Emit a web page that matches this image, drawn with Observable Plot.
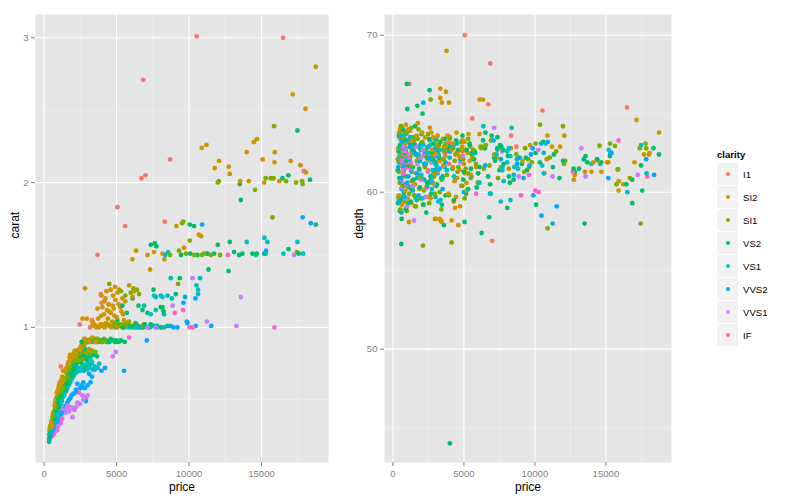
<!DOCTYPE html>
<html>
<head>
<meta charset="utf-8">
<script src="https://cdn.jsdelivr.net/npm/d3@7"></script>
<script src="https://cdn.jsdelivr.net/npm/@observablehq/plot@0.6"></script>
<style>
  body { margin: 0; background: white; font-family: "Liberation Sans", Arial, sans-serif; }
  #wrap { position: relative; width: 800px; height: 500px; overflow: hidden; }
  #p1 { position: absolute; left: 0; top: 0; }
  #p2 { position: absolute; left: 350px; top: 0; }
  #legend { position: absolute; left: 717px; top: 149px; font-size: 9.6px; color: #000; }
  #legend .title { font-weight: bold; height: 14px; line-height: 12px; }
  #legend .row { display: flex; align-items: center; height: 23px; }
  #legend .key { width: 21px; height: 22px; background: #F2F2F2; border-bottom: 1px solid #fff; border-right: 1px solid #fff; position: relative; }
  #legend .key span { position: absolute; left: 8.5px; top: 9px; width: 4.4px; height: 4.4px; border-radius: 50%; }
  #legend .lab { margin-left: 4px; }
</style>
</head>
<body>
<div id="wrap"><div id="p1"></div><div id="p2"></div><div id="legend"></div></div>
<script>
const clarityLevels = ["I1","SI2","SI1","VS2","VS1","VVS2","VVS1","IF"];
const palette = ["#F8766D","#CD9600","#7CAE00","#00BE67","#00BFC4","#00A9FF","#C77CFF","#FF61CC"];
const priceTicks = [0, 5000, 10000, 15000];
const priceMinor = [2500, 7500, 12500, 17500];
const caratTicks = [1, 2, 3];
const caratMinor = [0.5, 1.5, 2.5];
const depthTicks = [50, 60, 70];
const depthMinor = [45, 55, 65];

// [price, carat, depth]
const I1 = [
[10530,3.01,65.2],[16485,3.00,65.4],[6855,2.71,68.2],[8690,2.16,62.9],[6993,2.05,56.9],[6717,2.03,65.6],
[5062,1.83,70.0],[5590,1.70,64.7],[8325,1.73,63.6],[3683,1.50,62.5],[3910,1.23,63.2],[3960,1.17,61.8],
[2462,1.02,61.4],[3172,1.00,61.3],[3290,1.05,62.0],[1152,0.73,66.9]
];
const SI2 = [
[18740,2.80,63.8],[17153,2.61,64.6],[18030,2.51,62.4],[14463,2.28,62.0],[14690,2.30,61.3],[10877,2.24,63.6],
[11200,2.26,62.9],[13980,2.21,61.3],[15911,2.21,60.7],[15084,2.16,61.9],[17015,2.15,61.9],[12070,2.15,63.6],
[15890,2.14,60.1],[12738,2.11,60.8],[17683,2.12,62.4],[11773,2.10,62.9],[12808,2.06,61.1],[18070,2.07,62.5],
[13520,2.01,61.3],[14118,2.01,61.9],[15173,2.00,61.9],[16235,2.01,60.5],[9130,1.70,62.0],[10670,1.64,61.2],
[10830,1.63,62.1],[8166,1.51,61.5],[8304,1.47,62.8],[9656,1.55,63.0],[7131,1.50,62.4],[7590,1.52,61.6],
[6345,1.53,65.9],[6097,1.47,63.7],[7311,1.40,62.2],[2830,1.27,63.5],
[380,0.30,62.8],[450,0.31,63.5],[520,0.34,61.9],[560,0.32,64.2],[610,0.40,60.8],[680,0.42,62.7],
[720,0.46,63.9],[790,0.50,61.4],[830,0.45,62.3],[880,0.55,63.1],[950,0.53,58.9],[990,0.58,62.0],
[1080,0.62,64.0],[1127,0.58,58.1],[1152,0.61,63.3],[1250,0.66,61.7],[1340,0.63,62.6],[1420,0.70,62.9],
[1560,0.72,60.5],[1680,0.76,63.6],[1793,0.81,62.2],[1900,0.78,61.0],[2050,0.82,63.8],[2200,0.80,62.4],
[2330,0.84,60.3],[2600,0.86,64.1],[2760,0.92,62.7],[2876,0.83,61.2],[2958,0.90,58.3],[3007,0.91,58.3],
[3100,0.85,63.0],[3338,0.93,66.6],[3360,0.90,58.2],[3430,0.91,58.1],[3683,0.91,62.9],
[2648,1.06,59.6],[2945,1.06,62.5],[3310,1.01,58.3],[3337,1.04,66.0],[3450,1.02,65.7],[3550,1.01,61.7],
[3683,1.13,62.3],[3735,1.06,66.4],[3780,1.00,69.0],[3900,1.02,59.9],[3944,1.08,65.7],[4020,1.14,63.4],
[4100,1.01,62.8],[4133,1.09,58.2],[4230,1.20,61.6],[4280,1.03,59.4],[4340,1.12,60.7],[4400,1.06,62.4],
[4450,1.16,59.7],[4520,1.01,60.9],[4600,1.26,62.6],[4606,1.10,57.9],[4700,1.04,61.4],[4760,1.22,62.2],
[4810,1.13,60.4],[4880,1.02,62.9],[4920,1.19,63.3],[5000,1.07,61.8],[5060,1.24,61.2],[5130,1.16,62.7],
[5173,1.26,60.6],[5200,1.01,60.1],[5330,1.11,63.7],[5407,1.20,62.0],[5510,1.05,61.1],[5600,1.18,62.4],
[5862,1.29,61.6],[6105,1.21,65.9],[6207,1.25,62.8],
[420,0.32,59.8],[500,0.35,64.0],[640,0.41,59.2],[760,0.48,63.6],[860,0.51,60.1],[920,0.56,64.3],
[1030,0.60,59.6],[1200,0.64,63.9],[1300,0.70,59.3],[1480,0.71,63.3],[1620,0.74,59.1],[1750,0.79,64.4],
[1850,0.81,60.2],[1980,0.80,63.1],[2120,0.84,59.2],[2270,0.81,63.5],[2420,0.85,62.1],[2540,0.87,59.7],
[2700,0.90,63.8],[2820,0.92,60.6],[3150,0.90,63.6],[3250,0.92,62.0],[3520,0.90,63.4],[3600,1.00,62.9],
[3850,1.01,63.6],[4050,1.02,62.6],[4180,1.00,63.1],[4380,1.02,59.0],[4480,1.11,63.8],[4650,1.00,62.3],
[4720,1.15,59.1],[4850,1.08,62.8],[5050,1.00,63.2],[5250,1.14,62.5],[5450,1.09,62.9],[5700,1.03,62.1],
[4300,1.25,63.0],[4150,1.18,62.7],[3950,1.22,63.5],[4900,1.28,62.6]
];
const SI1 = [
[11980,2.00,64.2],[12050,2.01,61.8],[15290,2.03,63.1],[15635,2.03,62.95],[15820,2.03,61.45],[16690,2.01,60.9],
[17380,2.00,62.8],[17795,2.01,63.1],[17840,1.99,62.8],[14553,1.95,62.96],[15865,2.39,61.45],[15750,1.76,60.5],
[9520,1.72,62.1],[9590,1.73,61.6],[10050,1.60,63.1],[8690,1.50,62.4],[9311,1.53,62.8],[9794,1.51,61.9],
[10360,1.50,64.3],[11040,1.51,62.2],[11500,1.50,62.6],[12140,1.50,62.0],[9243,1.30,61.3],[17440,1.52,58.0],
[10890,1.50,57.7],
[4950,1.03,62.1],[5120,1.01,61.5],[5300,1.02,63.4],[5480,1.00,60.9],[5650,1.01,62.7],[5850,1.04,61.8],
[5290,1.25,61.2],[5980,1.24,60.6],[6166,1.27,62.9],[6552,1.23,63.0],[4500,1.30,62.5],[6800,1.01,61.7],
[2850,0.90,62.3],[3050,0.91,61.4],[3250,0.90,63.0],[3408,0.92,58.9],[3600,0.90,62.6],[3800,0.91,61.1],
[4000,0.90,63.5],[4133,0.92,56.8],[4350,0.90,62.0],[4600,0.91,61.6],[4900,0.90,60.4],
[350,0.26,62.1],[410,0.30,61.3],[480,0.31,60.6],[540,0.35,62.4],[600,0.33,63.2],[650,0.40,61.7],
[720,0.41,59.5],[800,0.44,62.9],[870,0.50,61.0],[930,0.47,63.7],[1010,0.52,62.2],[1100,0.56,60.3],
[1180,0.54,61.8],[1280,0.58,64.1],[1380,0.62,62.5],[1500,0.65,59.8],[1620,0.70,61.2],[1740,0.71,63.4],
[1880,0.73,62.0],[2000,0.76,60.9],[2113,0.72,56.6],[2250,0.79,61.6],[2400,0.77,62.8],[2550,0.81,59.3],
[2655,0.78,65.9],[2700,0.84,61.9],
[380,0.28,59.7],[450,0.32,63.8],[520,0.33,58.9],[580,0.38,64.2],[680,0.42,60.4],[760,0.45,63.5],
[840,0.47,59.4],[900,0.52,62.6],[980,0.51,58.8],[1050,0.55,63.9],[1150,0.58,59.9],[1230,0.60,62.3],
[1330,0.59,60.7],[1450,0.64,63.5],[1560,0.68,59.1],[1680,0.66,62.0],[1800,0.72,64.0],[1950,0.74,59.6],
[2080,0.77,63.2],[2180,0.76,60.1],[2320,0.80,62.5],[2480,0.82,63.7],[2620,0.85,60.6],[2780,0.88,62.4],
[2950,0.90,59.9],[3150,0.91,62.9],[3450,0.90,60.8],[3700,0.92,63.1],[3950,0.91,59.8],[4250,0.91,62.8],
[4550,1.01,61.3],[4800,1.02,63.2],[5050,1.01,59.6],[5550,1.02,62.4],[6000,1.01,61.2],[6300,1.03,62.9],
[6900,1.02,63.3],[7400,1.01,60.9],[5600,1.22,62.2],[6400,1.26,61.5],
[2900,0.80,61.0],[3100,0.82,63.3],[3300,0.84,60.0],[3550,0.83,62.1]
];
const VS2 = [
[17475,2.36,61.7],[13500,1.99,58.0],[16440,2.03,60.5],[16855,2.05,60.8],[18345,2.02,62.8],[13567,1.88,62.3],
[18740,1.71,62.4],[10050,1.71,62.5],[10345,1.70,61.9],[7360,1.57,63.5],[7635,1.58,62.9],[7750,1.56,62.7],
[11980,1.57,62.0],[12810,1.59,61.3],[13104,1.52,61.5],[13449,1.50,62.1],[13683,1.51,61.9],[14373,1.51,62.1],
[14670,1.51,61.9],[16855,1.54,59.3],[15280,1.51,62.3],[9449,1.50,61.4],[10085,1.51,59.2],[10580,1.50,63.2],
[11270,1.51,61.6],[11730,1.51,60.9],[11340,1.40,62.4],[12720,1.39,61.5],[9360,1.34,62.2],[9083,1.23,61.8],
[8166,1.14,61.0],[8235,1.11,60.6],[17560,1.51,60.1],
[7545,1.26,63.0],[8050,1.14,59.0],[6511,1.15,63.8],[6787,1.12,58.4],[7131,1.10,62.2],[5500,1.00,61.5],
[5750,1.01,62.6],[6000,1.00,61.2],[6250,1.00,57.4],[6480,1.01,62.8],[6700,1.00,61.0],[6950,1.02,63.6],
[7200,1.00,62.0],[7500,1.01,61.4],[5200,1.02,62.7],[4950,1.00,60.8],[4014,1.01,44.0],[5050,1.05,58.1],
[5700,1.10,62.1],[6100,1.20,61.6],[5400,1.15,63.1],
[3000,0.90,61.9],[3200,0.91,62.4],[3500,0.90,61.0],[3590,0.92,57.9],[3850,0.90,62.8],[4200,0.91,61.5],
[4450,0.90,63.3],[4750,0.91,62.1],[5000,0.90,61.3],[5300,0.91,60.2],[5560,0.90,62.5],[2585,0.90,66.5],
[345,0.21,61.4],[400,0.24,62.6],[450,0.29,60.9],[500,0.30,63.0],[590,0.31,56.7],[613,0.35,58.3],
[680,0.38,62.3],[740,0.40,61.1],[800,0.42,63.4],[860,0.39,60.5],[930,0.46,62.0],[985,0.50,66.9],
[1015,0.45,65.3],[1100,0.52,61.7],[1200,0.50,62.9],[1300,0.56,60.2],[1400,0.60,61.6],[1500,0.57,63.1],
[1620,0.63,62.4],[1718,0.62,65.5],[1850,0.70,61.5],[1950,0.66,62.7],[2090,0.71,65.0],[2200,0.74,61.8],
[2350,0.72,58.7],[2450,0.76,62.2],[2600,0.75,60.7],[2750,0.80,62.6],[2900,0.78,61.4],
[360,0.23,59.3],[420,0.27,63.6],[480,0.26,58.8],[540,0.32,62.8],[640,0.34,59.6],[710,0.37,64.0],
[780,0.41,60.0],[840,0.43,62.5],[900,0.40,58.9],[960,0.47,63.8],[1050,0.49,60.4],[1150,0.53,63.2],
[1250,0.52,59.4],[1350,0.58,62.7],[1450,0.62,60.8],[1560,0.61,64.2],[1680,0.66,59.5],[1780,0.68,62.9],
[1900,0.69,60.3],[2020,0.73,63.7],[2150,0.72,59.2],[2280,0.77,62.3],[2400,0.79,60.6],[2530,0.80,63.4],
[2680,0.82,59.9],[2820,0.85,62.1],[3100,0.90,60.5],[3350,0.91,63.2],[3700,0.90,59.8],[4000,0.91,63.0],
[4300,0.90,59.5],[4600,0.92,62.7],[4900,0.91,63.6],[5150,0.90,59.9],[5400,1.00,63.0],[5900,1.01,60.3],
[6350,1.02,63.3],[6850,1.00,60.5],[7350,1.02,62.8],[7800,1.01,61.8],[8100,1.00,62.3],[8500,1.01,60.8],
[2650,0.71,61.0],[2850,0.72,63.1],[3050,0.73,60.4],[3250,0.75,62.2],[3450,0.71,59.2],[3150,0.80,62.7],
[3400,0.81,60.9],[3650,0.80,63.4]
];
const VS1 = [
[13980,1.59,61.8],[15200,1.62,62.7],[15400,1.59,62.5],[17475,1.59,63.0],[8552,1.52,61.6],[14600,1.50,61.8],
[16510,1.51,60.0],[17865,1.51,61.2],[8740,1.34,62.1],[10760,1.34,63.1],[10510,1.29,61.7],[10620,1.26,62.5],
[10620,1.23,61.2],[8808,1.20,61.5],[8166,1.21,62.8],[8276,1.09,59.5],[8050,1.00,61.9],[8276,1.00,62.3],
[7587,1.22,59.4],[7704,1.21,61.4],[8050,1.22,62.6],[8511,1.22,61.1],[6897,1.15,59.9],[7359,1.09,62.7],
[7704,1.12,61.6],[6365,1.00,64.2],[6830,1.01,59.9],[7300,1.00,62.4],[7800,1.00,60.7],[11245,1.51,58.0],
[8360,1.50,64.1],
[420,0.26,61.9],[500,0.28,62.8],[560,0.31,60.7],[640,0.33,62.3],[720,0.35,63.6],[800,0.38,61.5],
[900,0.40,62.6],[1000,0.42,60.4],[1150,0.47,62.1],[1300,0.52,61.3],[1450,0.55,62.9],[1600,0.58,59.6],
[1800,0.62,62.4],[2000,0.66,61.1],[2150,0.70,63.0],[2300,0.72,61.8],[2500,0.70,62.5],[2700,0.73,60.8],
[2900,0.72,62.0],[3100,0.74,61.5],[3300,0.76,62.7],[3500,0.73,60.9],[4000,0.90,62.2],[4300,0.91,61.0],
[460,0.27,59.4],[530,0.30,63.4],[600,0.32,58.7],[680,0.34,61.9],[760,0.37,59.8],[850,0.39,63.8],
[950,0.41,62.2],[1080,0.45,59.3],[1220,0.49,63.5],[1380,0.53,60.3],[1520,0.56,63.0],[1700,0.60,60.9],
[1900,0.64,62.9],[2080,0.67,59.6],[2250,0.69,62.6],[2420,0.71,60.4],[2600,0.72,63.3],[2800,0.74,61.4],
[3000,0.76,59.7],[3200,0.78,62.4],[3650,0.90,61.6],[4500,0.90,63.1],[5000,0.91,60.0],[5800,1.00,62.5],
[6100,1.01,60.6],
[2550,0.71,62.1],[2750,0.70,60.2],[2950,0.71,63.4],[3150,0.72,61.2],[3350,0.71,59.5],[3600,0.72,62.8],
[3800,0.75,61.4],[2650,0.78,63.0],[3050,0.80,61.7]
];
const VVS2 = [
[10900,1.71,63.2],[17840,1.76,62.1],[18395,1.72,61.1],[15173,1.51,60.9],[15311,1.53,62.5],[10440,1.20,63.1],
[9725,1.21,62.4],[9614,1.17,61.7],[9842,1.04,62.8],[9890,1.03,59.8],[10460,1.01,58.5],[8740,1.01,61.8],
[8925,1.00,62.2],[9200,1.00,60.9],[11530,1.01,59.1],[7083,0.91,63.3],[5518,0.70,61.0],[3959,0.70,62.6],
[380,0.23,61.6],[470,0.26,62.3],[550,0.28,60.9],[640,0.30,63.2],[760,0.32,61.7],[870,0.34,62.8],
[1000,0.36,60.6],[1150,0.40,62.1],[1300,0.43,61.4],[1480,0.46,62.6],[1700,0.50,61.2],[1900,0.53,62.0],
[2140,0.55,65.7],[2300,0.61,61.8],[2500,0.58,62.9],[2700,0.62,60.7],[2876,0.49,61.9],[3100,0.68,62.3],
[3300,0.66,61.5],
[420,0.24,59.5],[510,0.27,63.6],[600,0.29,60.2],[700,0.31,62.9],[820,0.33,59.7],[940,0.35,63.3],
[1080,0.38,61.0],[1220,0.41,63.0],[1400,0.44,60.1],[1600,0.48,62.4],[1800,0.51,59.8],[2000,0.54,63.1],
[2200,0.57,60.8],[2600,0.60,62.2],[3500,0.71,60.2],[4200,0.72,63.0],[6500,1.00,61.7],[7600,1.01,62.1],
[2800,0.58,61.1],[3000,0.60,62.8],[3200,0.62,59.4],[3700,0.72,61.9]
];
const VVS1 = [
[17245,1.50,61.1],[10235,1.34,62.7],[13567,1.21,61.0],[8856,1.15,61.0],[11240,1.04,61.0],[13270,1.01,62.8],
[4945,0.83,62.3],[4738,0.80,61.9],[7131,1.00,64.1],[7700,1.00,62.6],
[600,0.26,62.0],[700,0.28,61.2],[800,0.30,62.7],[900,0.31,61.6],[1000,0.33,59.1],[1100,0.35,62.4],
[1270,0.43,61.5],[1480,0.41,58.2],[1614,0.46,62.9],[1724,0.42,61.8],[1958,0.38,62.2],[2000,0.44,60.8],
[2200,0.45,62.5],[2462,0.47,61.3],[2648,0.53,62.0],[2876,0.51,60.5],
[650,0.27,60.3],[750,0.29,63.0],[850,0.30,59.6],[950,0.32,62.8],[1200,0.40,62.0],[1380,0.42,60.4],
[1550,0.44,63.0],[1850,0.45,61.4],[2100,0.43,62.7],[2300,0.48,59.7],[2700,0.50,61.9],[3000,0.53,62.4]
];
const IF = [
[17910,2.08,61.0],[12670,1.50,61.3],[15890,1.00,63.3],[9587,1.12,61.1],[9014,1.10,59.8],[10030,1.00,60.1],
[10256,1.00,60.0],[5862,0.93,59.9],[560,0.25,61.8],[650,0.26,62.1],[720,0.28,61.5],[807,0.30,62.4],
[900,0.29,61.9],[1035,0.33,61.6],[1150,0.34,62.2],[2400,0.55,60.3],
[600,0.26,60.8],[680,0.27,62.9],[760,0.29,61.2],[850,0.31,62.6],[950,0.32,60.5],[1250,0.37,61.9]
];

const groups = {I1, SI2, SI1, VS2, VS1, VVS2, VVS1, IF};
const rows = [];
for (const c of clarityLevels) for (const [price, carat, depth] of groups[c]) rows.push({price, carat, depth, clarity: c});
rows.sort((a, b) => a.depth - b.depth);

const font = "'Liberation Sans', Arial, Helvetica, sans-serif";
const grey = "#7F7F7F";

function panel(opts) {
  return Plot.plot({
    width: opts.width, height: 500,
    marginLeft: opts.ml, marginRight: opts.mr, marginTop: 14, marginBottom: 38,
    style: {fontFamily: font, background: "white", overflow: "visible"},
    x: {domain: [-593, 19619], axis: null},
    y: {domain: opts.ydomain, axis: null},
    color: {domain: clarityLevels, range: palette},
    marks: [
      Plot.frame({fill: "#E5E5E5", stroke: "none"}),
      Plot.ruleX(priceMinor, {stroke: "#F2F2F2", strokeWidth: 0.6}),
      Plot.ruleY(opts.minor, {stroke: "#F2F2F2", strokeWidth: 0.6}),
      Plot.ruleX(priceTicks, {stroke: "white", strokeWidth: 1.1}),
      Plot.ruleY(opts.ticks, {stroke: "white", strokeWidth: 1.1}),
      Plot.dot(rows, {x: "price", y: opts.yfield, fill: "clarity", r: 2.4, stroke: "none"}),
      Plot.axisX(priceTicks, {anchor: "bottom", tickSize: 4, tickPadding: 4, fontSize: 9.6, color: grey, tickFormat: d => String(d), label: null}),
      Plot.axisY(opts.ticks, {anchor: "left", tickSize: 4, tickPadding: 3, fontSize: 9.6, color: grey, tickFormat: d => String(d), label: null}),
      Plot.text(["price"], {frameAnchor: "bottom", dy: 28, fontSize: 12, fill: "black", text: d => d}),
      Plot.text([opts.yfield], {frameAnchor: "left", dx: opts.titleDx, rotate: -90, fontSize: 12, fill: "black", text: d => d})
    ]
  });
}

document.getElementById("p1").append(panel({width: 350, ml: 35, mr: 22, ydomain: [0.067, 3.161], ticks: caratTicks, minor: caratMinor, yfield: "carat", titleDx: -20}));
document.getElementById("p2").append(panel({width: 340, ml: 34, mr: 19, ydomain: [42.78, 71.32], ticks: depthTicks, minor: depthMinor, yfield: "depth", titleDx: -25}));

const legend = document.getElementById("legend");
const t = document.createElement("div");
t.className = "title"; t.textContent = "clarity";
legend.append(t);
clarityLevels.forEach((c, i) => {
  const row = document.createElement("div"); row.className = "row";
  const key = document.createElement("div"); key.className = "key";
  const dot = document.createElement("span"); dot.style.background = palette[i];
  key.append(dot);
  const lab = document.createElement("div"); lab.className = "lab"; lab.textContent = c;
  row.append(key, lab);
  legend.append(row);
});
</script>
</body>
</html>
